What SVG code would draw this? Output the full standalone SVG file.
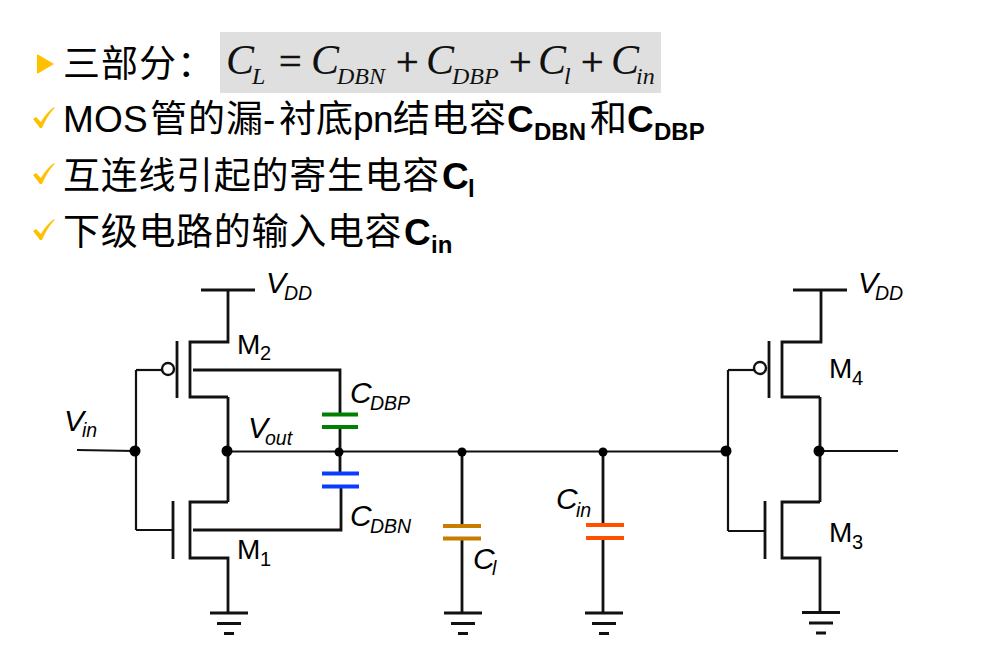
<svg xmlns="http://www.w3.org/2000/svg" width="984" height="656" viewBox="0 0 984 656">
<style>
.t{font-family:"Liberation Sans","Noto Sans CJK SC",sans-serif;font-size:37px;fill:#000}
.b{font-weight:700}
.s{font-size:24px}
.f{font-family:"Liberation Serif",serif;font-style:italic;fill:#111;font-size:42px}
.fs{font-size:24px}
.fo{font-family:"Liberation Serif",serif;font-style:normal;fill:#111;font-size:40px;stroke:#111;stroke-width:.7px}
.l{font-family:"Liberation Sans",sans-serif;fill:#000;font-size:30px;font-style:italic}
.ls{font-size:19.500px}
.m{font-family:"Liberation Sans",sans-serif;fill:#000;font-size:28px}
.ms{font-size:20px}
.w,.n{fill:none;stroke:#111;stroke-linecap:butt;stroke-linejoin:miter}
.w{stroke-width:2.200}
.n{stroke-width:2.800}
.d{fill:#000}
.p{stroke-width:4;fill:none}
</style>
<defs>
<path id="chk" d="M0 12 L3 10 L8 15 Q13 6 21 0 L21.500 1 Q14 9 9 21 L7 21 Z" fill="#ffc000"/>
<g id="gnd" class="n"><path d="M-19 0H19M-12 10.500H12M-5 20.500H5"/></g>
</defs>
<g id="header">
<rect x="220" y="32" width="441" height="61" fill="#dfdfdf"/>
<path d="M37 54L54 64L37 74Z" fill="#ffc000"/>
<use href="#chk" x="33" y="107"/>
<use href="#chk" x="33" y="163"/>
<use href="#chk" x="33" y="219"/>
<text class="t" x="63 101 139 177" y="77">三部分：</text>
<text class="f" x="226" y="74">C<tspan class="fs" x="252" y="84">L</tspan><tspan class="fo" x="279" y="75">=</tspan><tspan x="311" y="74">C</tspan><tspan class="fs" x="337" y="84">DBN</tspan><tspan class="fo" x="396" y="75">+</tspan><tspan x="426" y="74">C</tspan><tspan class="fs" x="452" y="84">DBP</tspan><tspan class="fo" x="509" y="75">+</tspan><tspan x="538" y="74">C</tspan><tspan class="fs" x="564" y="84">l</tspan><tspan class="fo" x="581" y="75">+</tspan><tspan x="611" y="74">C</tspan><tspan class="fs" x="636" y="84">in</tspan></text>
<text class="t" x="63 94 123 150 188 226 263 279 316 353 373 393 431 469" y="132">MOS管的漏-衬底pn结电容</text>
<text class="t b" x="507" y="132">C<tspan class="s" x="534" y="140">DBN</tspan><tspan class="b" style="font-weight:400" x="590" y="132">和</tspan><tspan x="627" y="132">C</tspan><tspan class="s" x="654" y="140">DBP</tspan></text>
<text class="t" x="63" y="189" style="letter-spacing:.7px">互连线引起的寄生电容</text>
<text class="t b" x="442" y="189">C<tspan class="s" x="468" y="197">l</tspan></text>
<text class="t" x="63" y="245" style="letter-spacing:.7px">下级电路的输入电容</text>
<text class="t b" x="404" y="245">C<tspan class="s" x="431" y="253">in</tspan></text>
</g>
<g id="connectors">
<path class="w" d="M77 450L135 451M136 370V530"/>
<path class="w" d="M227 451.500H726M728 370V531"/>
<path class="w" d="M819 451H898"/>
<path class="n" d="M193 370H340V414M340 427V452M340 452V474M341 486V530H193"/>
<path class="n" d="M462 452V526M462 539V613"/>
<path class="n" d="M603 452V525M603 538V613"/>
<path class="n" d="M228 397V502M820 397V502"/>
<circle class="d" cx="135" cy="451" r="5.500"/>
<circle class="d" cx="227" cy="451" r="5.500"/>
<circle class="d" cx="339" cy="452" r="4.500"/>
<circle class="d" cx="462" cy="452" r="4.500"/>
<circle class="d" cx="603" cy="452" r="4.500"/>
<circle class="d" cx="726" cy="451" r="5.500"/>
<circle class="d" cx="819" cy="451" r="5.500"/>
</g>
<g id="M2">
<path class="n" d="M201 290H255M228 290V342H190V397H228M177 341V398"/>
<path class="w" d="M136 370H162"/>
<circle cx="168" cy="369" r="6" fill="#fff" stroke="#111" stroke-width="2.400"/>
<text class="l" x="266" y="293">V<tspan class="ls" x="284" y="300">DD</tspan></text>
<text class="m" x="237" y="354">M<tspan class="ms" x="260" y="360">2</tspan></text>
</g>
<g id="M1">
<path class="n" d="M228 502H190V558H228V613M173 501V559"/>
<path class="w" d="M136 530H173"/>
<use href="#gnd" x="229" y="613"/>
<text class="m" x="237" y="559">M<tspan class="ms" x="260" y="566">1</tspan></text>
</g>
<g id="M4">
<path class="n" d="M793 290H847M821 290V342H782V397H820M769 341V398"/>
<path class="w" d="M728 370H754"/>
<circle cx="760" cy="368" r="6" fill="#fff" stroke="#111" stroke-width="2.400"/>
<text class="l" x="858" y="293">V<tspan class="ls" x="875" y="300">DD</tspan></text>
<text class="m" x="829" y="378">M<tspan class="ms" x="852" y="385">4</tspan></text>
</g>
<g id="M3">
<path class="n" d="M820 502H782V558H820V612M765 501V559"/>
<path class="w" d="M728 531H765"/>
<use href="#gnd" x="821" y="612.500"/>
<text class="m" x="829" y="542">M<tspan class="ms" x="852" y="549">3</tspan></text>
</g>
<g id="Vin"><text class="l" x="64" y="431">V<tspan class="ls" x="82" y="437">in</tspan></text></g>
<g id="Vout"><text class="l" x="248" y="438">V<tspan class="ls" x="265" y="445">out</tspan></text></g>
<g id="CDBP">
<path class="p" stroke="#008000" d="M322 414.500H358M322 427H358"/>
<text class="l" x="350" y="403">C<tspan class="ls" x="370" y="410">DBP</tspan></text>
</g>
<g id="CDBN">
<path class="p" stroke="#0a3cff" d="M322 473.500H359M322 486.500H359"/>
<text class="l" x="350" y="526">C<tspan class="ls" x="370" y="533">DBN</tspan></text>
</g>
<g id="Cl">
<path class="p" stroke="#c87d00" d="M443 526H481M443 538.500H481"/>
<use href="#gnd" x="463" y="613"/>
<text class="l" x="473" y="569">C<tspan class="ls" x="492" y="575">l</tspan></text>
</g>
<g id="Cin">
<path class="p" stroke="#ff5000" d="M586 525H624M586 538H624"/>
<use href="#gnd" x="604" y="613"/>
<text class="l" x="556" y="509">C<tspan class="ls" x="576" y="517">in</tspan></text>
</g>
</svg>
